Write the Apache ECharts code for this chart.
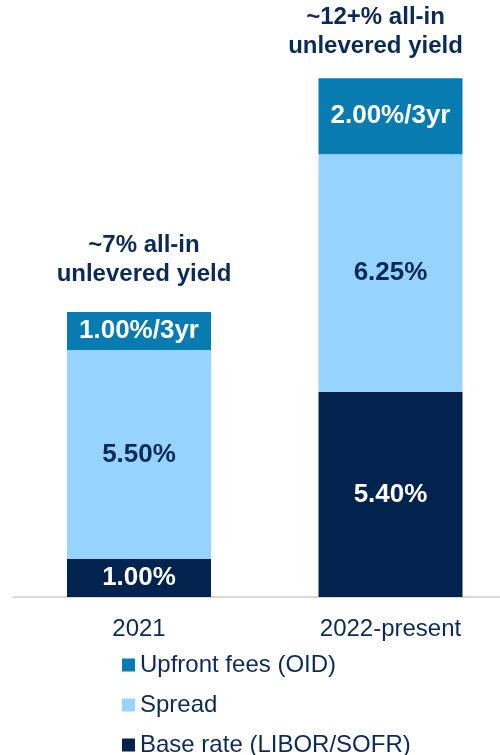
<!DOCTYPE html>
<html>
<head>
<meta charset="utf-8">
<script src="https://cdn.jsdelivr.net/npm/echarts@6/dist/echarts.min.js"></script>
<style>
html,body{margin:0;padding:0;background:#fff;}
#chart{width:500px;height:755px;}
</style>
</head>
<body>
<div id="chart"></div>
<script>
var categories = ['2021', '2022-present'];
var baseRate = [1.00, 5.40];
var spread = [5.50, 6.25];
var upfront = [1.00, 2.00];
var baseLabels = ['1.00%', '5.40%'];
var spreadLabels = ['5.50%', '6.25%'];
var upfrontLabels = ['1.00%/3yr', '2.00%/3yr'];
var annotations = ['~7% all-in\nunlevered yield', '~12+% all-in\nunlevered yield'];
var seriesNames = ['Upfront fees (OID)', 'Spread', 'Base rate (LIBOR/SOFR)'];

var FONT = 'Arial, "Liberation Sans", sans-serif';
var NAVY = '#0C2A57';
var chart = echarts.init(document.getElementById('chart'), null, {renderer: 'canvas'});

function lbl(arr, color) {
  return {
    show: true, position: 'inside', color: color,
    fontFamily: FONT, fontWeight: 'bold', fontSize: 26,
    formatter: function (p) { return arr[p.dataIndex]; }
  };
}

var option = {
  animation: false,
  grid: {left: 13.25, width: 503, top: 65, bottom: 158, containLabel: false, outerBoundsMode: 'none'},
  legend: {
    orient: 'vertical', left: 122, top: 653, height: 130, padding: 0,
    itemWidth: 13, itemHeight: 13, itemGap: 16,
    icon: 'rect',
    data: seriesNames,
    textStyle: {fontFamily: FONT, fontSize: 24, color: NAVY, lineHeight: 24}
  },
  xAxis: {
    type: 'category', data: categories,
    axisLine: {show: true, lineStyle: {color: '#D9D9D9', width: 2}},
    axisTick: {show: false},
    axisLabel: {fontFamily: FONT, fontSize: 24, color: NAVY, margin: 20}
  },
  yAxis: {type: 'value', min: 0, max: 14, show: false, splitLine: {show: false}},
  series: [
    {name: seriesNames[2], type: 'bar', stack: 'total', barWidth: 144, data: baseRate,
      itemStyle: {color: '#03234F'}, label: lbl(baseLabels, '#FFFFFF')},
    {name: seriesNames[1], type: 'bar', stack: 'total', barWidth: 144, data: spread,
      itemStyle: {color: '#97D3FF'}, label: lbl(spreadLabels, NAVY)},
    {name: seriesNames[0], type: 'bar', stack: 'total', barWidth: 144, data: upfront,
      itemStyle: {color: '#087CB0'}, label: lbl(upfrontLabels, '#FFFFFF')}
  ]
};
chart.setOption(option);

var xOffsets = [5, -15];
var yGaps = [23, 17];
var graphics = categories.map(function (c, i) {
  var total = baseRate[i] + spread[i] + upfront[i];
  var pt = chart.convertToPixel({gridIndex: 0}, [i, total]);
  return {
    type: 'text',
    x: pt[0] + xOffsets[i],
    y: pt[1] - yGaps[i],
    style: {
      text: annotations[i],
      fontFamily: FONT, fontWeight: 'bold', fontSize: 24, lineHeight: 29,
      fill: NAVY, align: 'center', verticalAlign: 'bottom'
    }
  };
});
chart.setOption({graphic: graphics});
</script>
</body>
</html>
